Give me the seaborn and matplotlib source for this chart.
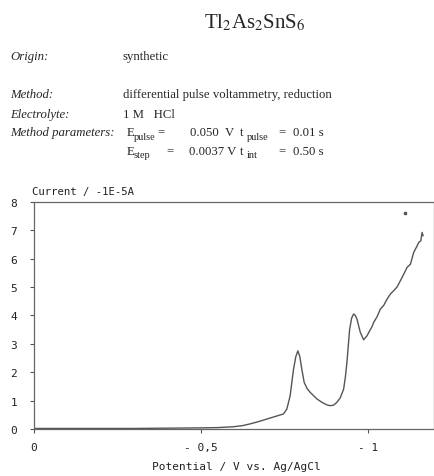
import numpy as np
import pandas as pd
import matplotlib
matplotlib.use("Agg")
import matplotlib.pyplot as plt
import seaborn as sns

# potential (V vs Ag/AgCl) and current (units of -1E-5 A)
potential = [0.000, -0.050, -0.100, -0.200, -0.300, -0.400, -0.500, -0.550, -0.597,
             -0.625, -0.647, -0.672, -0.697, -0.722, -0.747, -0.757, -0.767, -0.777,
             -0.784, -0.790, -0.796, -0.802, -0.809, -0.818, -0.827, -0.847, -0.862,
             -0.877, -0.887, -0.897, -0.907, -0.917, -0.927, -0.932, -0.937, -0.945,
             -0.951, -0.957, -0.962, -0.967, -0.977, -0.987, -0.997, -1.007, -1.012,
             -1.017, -1.027, -1.037, -1.047, -1.057, -1.067, -1.077, -1.087, -1.097,
             -1.107, -1.117, -1.127, -1.137, -1.145, -1.152, -1.158, -1.162, -1.165]
current = [0.02, 0.02, 0.02, 0.02, 0.02, 0.03, 0.04, 0.05, 0.08,
           0.12, 0.18, 0.26, 0.35, 0.44, 0.53, 0.70, 1.17, 2.10,
           2.55, 2.75, 2.55, 2.10, 1.64, 1.42, 1.29, 1.06, 0.94,
           0.85, 0.82, 0.84, 0.94, 1.10, 1.40, 1.80, 2.35, 3.50,
           3.90, 4.05, 4.00, 3.87, 3.40, 3.14, 3.28, 3.50, 3.60,
           3.75, 3.95, 4.22, 4.35, 4.57, 4.75, 4.87, 5.00, 5.22,
           5.45, 5.69, 5.80, 6.22, 6.40, 6.57, 6.62, 6.92, 6.80]
stray_potential = [-1.112]
stray_current = [7.59]

yticks = [0, 1, 2, 3, 4, 5, 6, 7, 8]
xticks = [0, -0.5, -1.0]
xtick_labels = ["0", "- 0,5", "- 1"]

sns.set_style("white")
plt.rcParams["font.family"] = ["Liberation Serif", "DejaVu Serif"]
plt.rcParams["mathtext.fontset"] = "stix"

fig = plt.figure(figsize=(4.35, 4.77), dpi=100)
ax = fig.add_axes([0.078, 0.0985, 0.92, 0.4765])

df = pd.DataFrame({"E": potential, "I": current})
sns.lineplot(data=df, x="E", y="I", sort=False, color="#555555", linewidth=1.0, ax=ax)
ax.plot(stray_potential, stray_current, "s", color="#555555", markersize=1.6)

ax.set_xlim(0.0, -1.198)
ax.set_ylim(0, 8)
ax.set_xticks(xticks)
ax.set_xticklabels(xtick_labels)
ax.set_yticks(yticks)
ax.set_xlabel("")
ax.set_ylabel("")
mono = "DejaVu Sans Mono"
for lab in ax.get_xticklabels() + ax.get_yticklabels():
    lab.set_fontfamily(mono)
    lab.set_fontsize(8)
    lab.set_color("#222222")
ax.tick_params(axis="both", which="both", length=3, width=0.8, color="#555555",
               direction="out", left=True, bottom=True)
ax.tick_params(axis="y", pad=9)
ax.tick_params(axis="x", pad=6)
for s in ax.spines.values():
    s.set_color("#666666")
    s.set_linewidth(0.9)

fig.text(0.074, 0.598, "Current / -1E-5A", fontfamily=mono, fontsize=7.7, va="center",
         color="#222222")
fig.text(0.543, 0.021, "Potential / V vs. Ag/AgCl", fontfamily=mono, fontsize=8,
         ha="center", va="center", color="#222222")

# header block
fig.text(0.586, 0.952, r"Tl$_2$As$_2$SnS$_6$", fontsize=15, ha="center", va="center")
fs = 9.2
W, H = 435.0, 477.0


def put(x, y, s, **kw):
    fig.text(x / W, 1 - y / H, s, fontsize=kw.pop("size", fs), va="center", **kw)


def sub(x, y, base, low):
    put(x, y, base)
    put(x + 6.5, y + 4, low, size=fs * 0.8)


put(10, 57, "Origin:", style="italic")
put(123, 57, "synthetic")
put(10, 95, "Method:", style="italic")
put(123, 95, "differential pulse voltammetry, reduction")
put(10, 115, "Electrolyte:", style="italic")
put(123, 115, "1 M   HCl")
put(10, 133, "Method parameters:", style="italic")
sub(127, 133, "E", "pulse")
put(157, 132, "=")
put(190, 133, "0.050  V")
sub(240, 133, "t", "pulse")
put(278, 132, "=")
put(293, 133, "0.01 s")
sub(127, 152, "E", "step")
put(166, 151, "=")
put(189, 152, "0.0037 V")
sub(240, 152, "t", "int")
put(278, 151, "=")
put(293, 152, "0.50 s")

fig.savefig("out.png", dpi=100)
